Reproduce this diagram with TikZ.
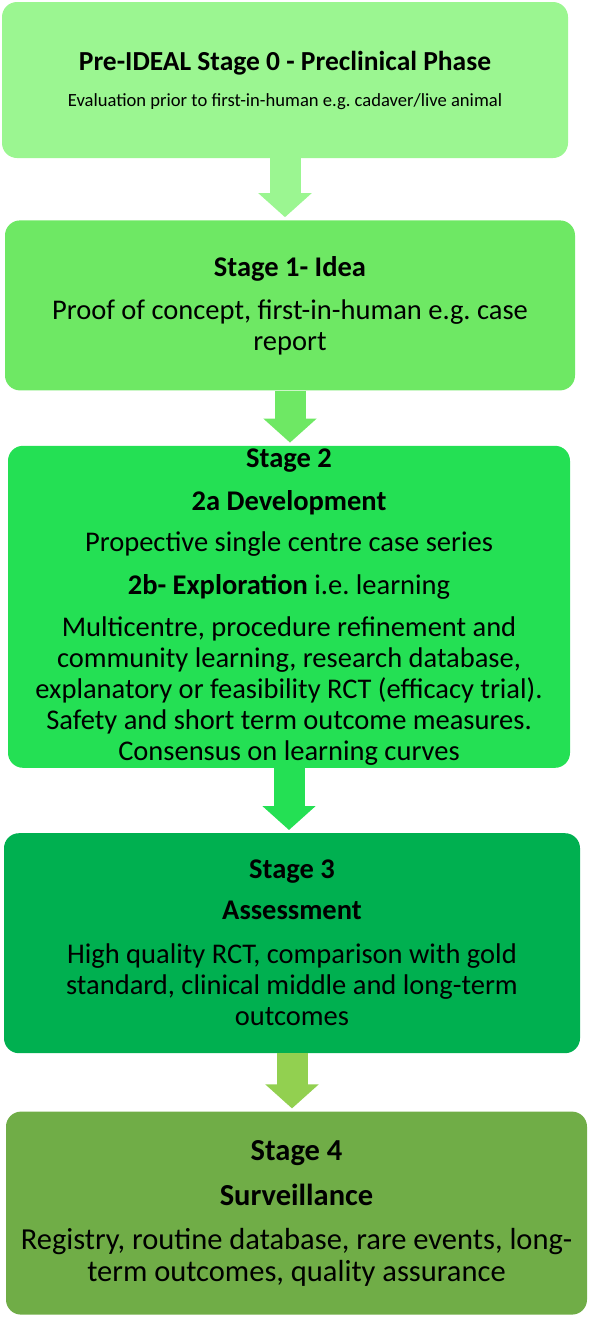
\documentclass[tikz,border=0pt]{standalone}
\usepackage{fontspec}
\setmainfont{Carlito}
\usepackage{tikz}
\usetikzlibrary{arrows.meta, positioning}
\frenchspacing

\definecolor{preclin}{HTML}{9BF691}
\definecolor{idea}{HTML}{6EE864}
\definecolor{explore}{HTML}{24E054}
\definecolor{assess}{HTML}{00B050}
\definecolor{survey}{HTML}{70AD47}
\definecolor{surveyarrow}{HTML}{92D050}

\newcommand{\bodytext}{\fontsize{28.5}{31}\selectfont}
\newcommand{\largetext}{\fontsize{30.5}{32}\selectfont}

\begin{document}
\begin{tikzpicture}[node distance=60pt,
			stage box/.style={rounded corners=15pt,align=flush center,inner xsep=5pt,inner ysep=2pt,font=\bodytext},
			stage arrow/.style={line width=31pt,-{Triangle[width=52pt,length=24pt]},shorten >=3pt}]
			
			\useasboundingbox (0,0) rectangle (589pt,-1318pt);
			
			\node[stage box, fill=preclin, text width=556pt, minimum height=156pt] (stage0) at (285pt,-80pt)
			{{\fontsize{27.5}{29}\selectfont\bfseries Pre-IDEAL Stage 0 - Preclinical Phase\par}
				{\fontsize{18.6}{36}\selectfont Evaluation prior to first-in-human e.g. cadaver/live animal\par}
				\vspace{-8pt}};
			\node[stage box, fill=idea, text width=560pt, minimum height=170pt] (stage1) [below=62pt of stage0, xshift=5pt]
			{\textbf{Stage 1- Idea}\\[12pt]
				Proof of concept, first-in-human e.g. case\\
				report};
			\node[stage box, fill=explore, text width=552pt, minimum height=322pt] (stage2) [below=55pt of stage1, xshift=-1pt]
			{\textbf{Stage 2}\\[12pt]
				\textbf{2a Development}\\[10pt]
				Propective single centre case series\\[12pt]
				\textbf{2b- Exploration} i.e. learning\\[11pt]
				Multicentre, procedure refinement and\\
				community learning, research database,\\
				explanatory or feasibility RCT (efficacy trial).\\
				Safety and short term outcome measures.\\
				Consensus on learning curves};
			\node[stage box, fill=assess, text width=566pt, minimum height=220pt] (stage3) [below=65pt of stage2, xshift=3pt]
			{\textbf{Stage 3}\\[10pt]
				\textbf{Assessment}\\[13pt]
				High quality RCT, comparison with gold\\
				standard, clinical middle and long-term\\
				outcomes};
			\node[stage box, fill=survey, text width=571pt, minimum height=203pt, font=\largetext] (stage4) [below=58pt of stage3, xshift=4.5pt]
			{\textbf{Stage 4}\\[13pt]
				\textbf{Surveillance}\\[12pt]
				Registry, routine database, rare events, long-\\
				term outcomes, quality assurance};
			
			\draw[stage arrow, draw=preclin] (stage0.south) -- (stage0.south |- stage1.north);
			\draw[stage arrow, draw=idea] (stage1.south) -- (stage1.south |- stage2.north);
			\draw[stage arrow, draw=explore] (stage2.south) -- (stage2.south |- stage3.north);
			\draw[stage arrow, draw=surveyarrow] (stage3.south) -- (stage3.south |- stage4.north);
		\end{tikzpicture}
\end{document}
